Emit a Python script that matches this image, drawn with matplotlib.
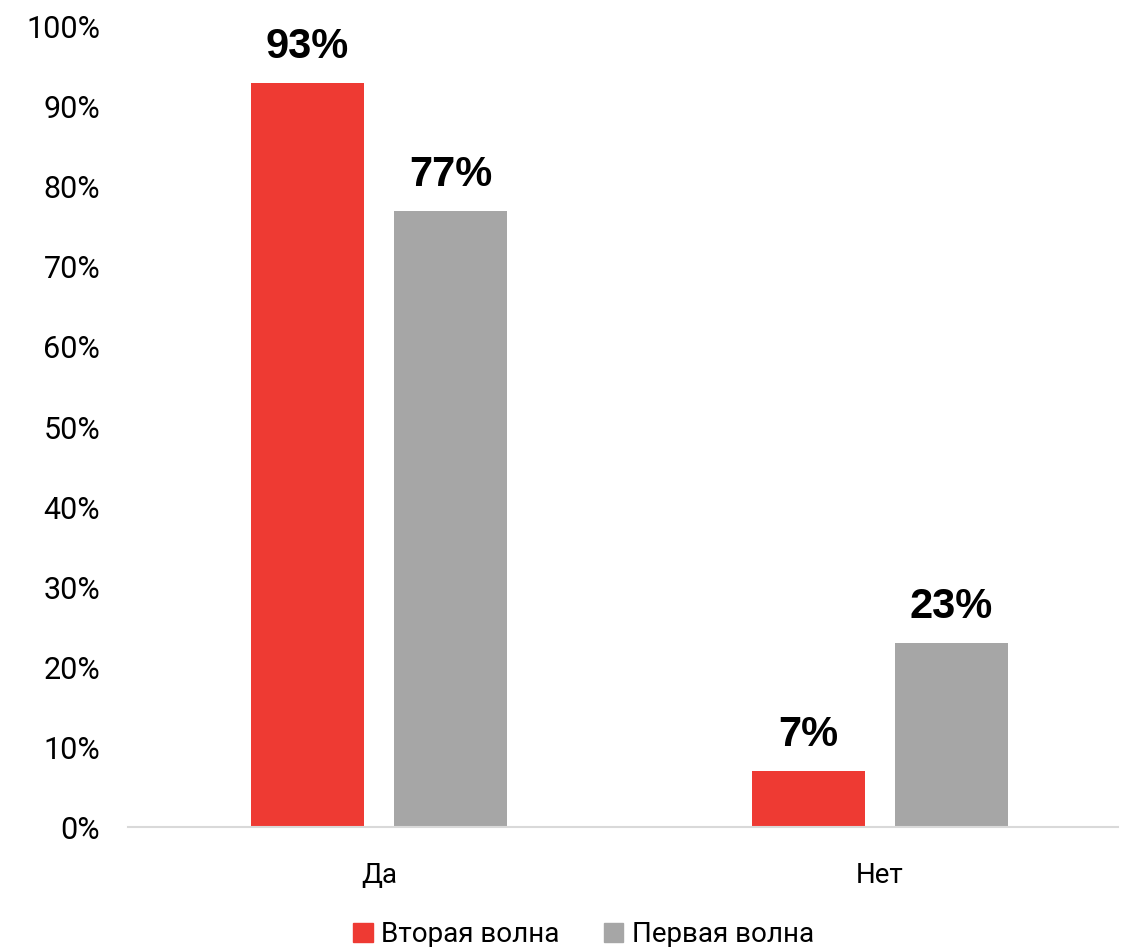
import numpy as np
import matplotlib.pyplot as plt
from matplotlib.patches import Patch

categories = ['Да', 'Нет']
series_names = ['Вторая волна', 'Первая волна']
second_wave = [93, 7]
first_wave = [77, 23]
yticks = list(range(0, 101, 10))

colors = ['#EE3A33', '#A6A6A6']

fig = plt.figure(figsize=(11.22, 9.47), dpi=100)
ax = fig.add_axes([0.114, 0.1267, 0.8824, 0.8448])

x = np.arange(len(categories))
width = 0.2255
offsets = [-0.1427, 0.1427]

for vals, off, col in zip([second_wave, first_wave], offsets, colors):
    bars = ax.bar(x + off, vals, width, color=col)
    for b, v in zip(bars, vals):
        ax.text(b.get_x() + b.get_width() / 2, v + 2.0, f'{v}%',
                ha='center', va='bottom', fontsize=30, fontweight='bold',
                family='Liberation Sans')

ax.set_xlim(-0.501, 1.475)
ax.set_ylim(0, 100)
ax.set_yticks(yticks)
ax.set_yticklabels([f'{t}%' for t in yticks], family='Roboto', fontsize=22)
ax.set_xticks(x)
ax.set_xticklabels(categories, family='Roboto', fontsize=20)
ax.tick_params(axis='y', length=0, pad=20)
ax.tick_params(axis='x', length=0, pad=25)

for s in ['top', 'right', 'left']:
    ax.spines[s].set_visible(False)
ax.spines['bottom'].set_color('#d9d9d9')
ax.spines['bottom'].set_linewidth(1.5)

handles = [Patch(color=c) for c in colors]
fig.legend(handles, series_names, loc='center', bbox_to_anchor=(0.52, 0.013),
           ncol=2, frameon=False, prop={'family': 'Roboto', 'size': 20},
           handlelength=0.7, handleheight=0.7, handletextpad=0.3, columnspacing=1.6)

fig.savefig('out.png', dpi=100)
